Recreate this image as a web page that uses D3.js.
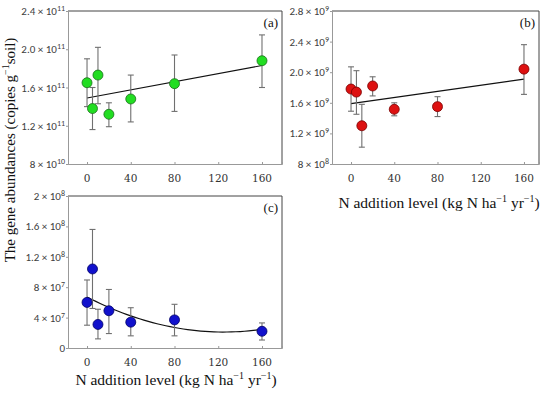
<!DOCTYPE html>
<html>
<head>
<meta charset="utf-8">
<script src="https://cdn.jsdelivr.net/npm/d3@7"></script>
<style>
  body { margin: 0; background: #fff; }
  svg { display: block; }
</style>
</head>
<body>
<svg id="chart" width="550" height="393"></svg>
<script>
// N addition levels (kg N ha-1 yr-1)
const nLevels = [0, 5, 10, 20, 40, 80, 160];
const xTicks = [0, 40, 80, 120, 160];

// panel (a)
const aMean = [1.65e11, 1.38e11, 1.73e11, 1.32e11, 1.48e11, 1.64e11, 1.88e11];
const aHigh = [1.90e11, 1.60e11, 2.02e11, 1.44e11, 1.73e11, 1.94e11, 2.15e11];
const aLow  = [1.40e11, 1.16e11, 1.43e11, 1.19e11, 1.24e11, 1.35e11, 1.60e11];
const aFit  = [[0, 1.49e11], [160, 1.83e11]];
const aTicks = [["8", 10], ["1.2", 11], ["1.6", 11], ["2.0", 11], ["2.4", 11]];

// panel (b)
const bMean = [1.78e9, 1.74e9, 1.30e9, 1.82e9, 1.515e9, 1.55e9, 2.04e9];
const bHigh = [2.07e9, 2.02e9, 1.58e9, 1.94e9, 1.60e9, 1.68e9, 2.36e9];
const bLow  = [1.49e9, 1.45e9, 1.02e9, 1.69e9, 1.43e9, 1.42e9, 1.71e9];
const bFit  = [[0, 1.59e9], [160, 1.91e9]];
const bTicks = [["8", 8], ["1.2", 9], ["1.6", 9], ["2.0", 9], ["2.4", 9], ["2.8", 9]];

// panel (c)
const cMean = [0.60e8, 1.04e8, 0.31e8, 0.49e8, 0.34e8, 0.37e8, 0.22e8];
const cHigh = [0.895e8, 1.56e8, 0.51e8, 0.77e8, 0.53e8, 0.575e8, 0.33e8];
const cLow  = [0.30e8, 0.52e8, 0.12e8, 0.19e8, 0.16e8, 0.16e8, 0.105e8];
// quadratic fit y = c0 + c1*x + c2*x^2
const cFitCoef = [6.7e7, -7.36e5, 2944];
const cTicks = [["0", 0], ["4", 7], ["8", 7], ["1.2", 8], ["1.6", 8], ["2", 8]];

const svg = d3.select("#chart");
const SERIF = "'Liberation Serif', 'Times New Roman', serif";
const SANS = "Carlito, 'Liberation Sans', Arial, sans-serif";

function drawPanel(opt) {
  const { left, right, top, bottom, xDomain, yDomain, mean, high, low, fill, stroke, label, ticks } = opt;
  const x = d3.scaleLinear().domain(xDomain).range([left, right]);
  const y = d3.scaleLinear().domain(yDomain).range([bottom, top]);
  const g = svg.append("g");
  const tickVal = t => +t[0] * Math.pow(10, t[1]);

  // frame top / right
  g.append("path")
    .attr("d", `M${left},${top}H${right}V${bottom}`)
    .attr("fill", "none").attr("stroke", "#444").attr("stroke-width", 1);

  // y axis
  const yAxis = g.append("g")
    .attr("transform", `translate(${left},0)`)
    .call(d3.axisLeft(y).tickValues(ticks.map(tickVal)).tickSize(2).tickFormat(""));
  yAxis.select(".domain").attr("stroke", "#999");
  yAxis.selectAll(".tick line").attr("stroke", "#999");

  ticks.forEach(t => {
    const v = tickVal(t);
    const txt = g.append("text")
      .attr("x", left - 3).attr("y", y(v) + 4)
      .attr("text-anchor", "end")
      .attr("font-family", SANS).attr("font-size", "11px").attr("fill", "#404040");
    if (v === 0) { txt.text("0"); return; }
    txt.append("tspan").text(`${t[0]} × 10`);
    txt.append("tspan").attr("dy", -4).attr("font-size", "8px").text(t[1]);
  });

  // x axis
  const xAxis = g.append("g")
    .attr("transform", `translate(0,${bottom})`)
    .call(d3.axisTop(x).tickValues(xTicks).tickSize(2).tickFormat(""));
  xAxis.select(".domain").attr("stroke", "#999");
  xAxis.selectAll(".tick line").attr("stroke", "#999");
  xTicks.forEach(v => {
    g.append("text")
      .attr("x", x(v)).attr("y", bottom + 18)
      .attr("text-anchor", "middle")
      .attr("font-family", "'DejaVu Serif', serif").attr("font-size", "10.5px").attr("fill", "#333")
      .text(v);
  });

  // fit line
  g.append("path")
    .attr("d", d3.line().x(d => x(d[0])).y(d => y(d[1]))(opt.fit))
    .attr("fill", "none").attr("stroke", "#111").attr("stroke-width", 1.2);

  // error bars
  const eb = g.append("g").attr("stroke", "#707070").attr("stroke-width", 1.1);
  nLevels.forEach((n, i) => {
    const cx = x(n);
    eb.append("line").attr("x1", cx).attr("x2", cx).attr("y1", y(high[i])).attr("y2", y(low[i]));
    eb.append("line").attr("x1", cx - 3).attr("x2", cx + 3).attr("y1", y(high[i])).attr("y2", y(high[i]));
    eb.append("line").attr("x1", cx - 3).attr("x2", cx + 3).attr("y1", y(low[i])).attr("y2", y(low[i]));
  });

  // points
  g.append("g").selectAll("circle")
    .data(nLevels)
    .join("circle")
    .attr("cx", d => x(d))
    .attr("cy", (d, i) => y(mean[i]))
    .attr("r", 5)
    .attr("fill", fill)
    .attr("stroke", stroke)
    .attr("stroke-width", 0.8);

  g.append("text")
    .attr("x", right - 4).attr("y", top + 16)
    .attr("text-anchor", "end")
    .attr("font-family", SERIF).attr("font-size", "13px").attr("fill", "#111")
    .text(label);
}

drawPanel({
  left: 68, right: 282, top: 11, bottom: 164,
  xDomain: [-17.4, 178.3], yDomain: [8e10, 2.4e11],
  mean: aMean, high: aHigh, low: aLow, fit: aFit, ticks: aTicks,
  fill: "#22dd22", stroke: "#1a6e1a", label: "(a)"
});

drawPanel({
  left: 332, right: 539, top: 11, bottom: 164,
  xDomain: [-17.6, 173.9], yDomain: [8e8, 2.8e9],
  mean: bMean, high: bHigh, low: bLow, fit: bFit, ticks: bTicks,
  fill: "#dd1111", stroke: "#7a0000", label: "(b)"
});

const cFit = d3.range(0, 161, 4).map(v => [v, cFitCoef[0] + cFitCoef[1] * v + cFitCoef[2] * v * v]);
drawPanel({
  left: 68, right: 282, top: 196, bottom: 348,
  xDomain: [-17.4, 178.3], yDomain: [0, 2e8],
  mean: cMean, high: cHigh, low: cLow, fit: cFit, ticks: cTicks,
  fill: "#1111cc", stroke: "#000066", label: "(c)"
});

// axis titles
function xTitle(cx, by) {
  const t = svg.append("text")
    .attr("x", cx).attr("y", by)
    .attr("text-anchor", "middle")
    .attr("font-family", SERIF).attr("font-size", "15.5px").attr("fill", "#111");
  t.append("tspan").text("N addition level (kg N ha");
  t.append("tspan").attr("dy", -6).attr("font-size", "10px").text("−1");
  t.append("tspan").attr("dy", 6).text(" yr");
  t.append("tspan").attr("dy", -6).attr("font-size", "10px").text("−1");
  t.append("tspan").attr("dy", 6).text(")");
}
xTitle(439, 208);
xTitle(176, 385);

const yt = svg.append("text")
  .attr("transform", "translate(15,150) rotate(-90)")
  .attr("text-anchor", "middle")
  .attr("font-family", SERIF).attr("font-size", "15px").attr("fill", "#111");
yt.append("tspan").text("The gene abundances (copies g");
yt.append("tspan").attr("dy", -6).attr("font-size", "10px").text("−1");
yt.append("tspan").attr("dy", 6).text("soil)");
</script>
</body>
</html>
